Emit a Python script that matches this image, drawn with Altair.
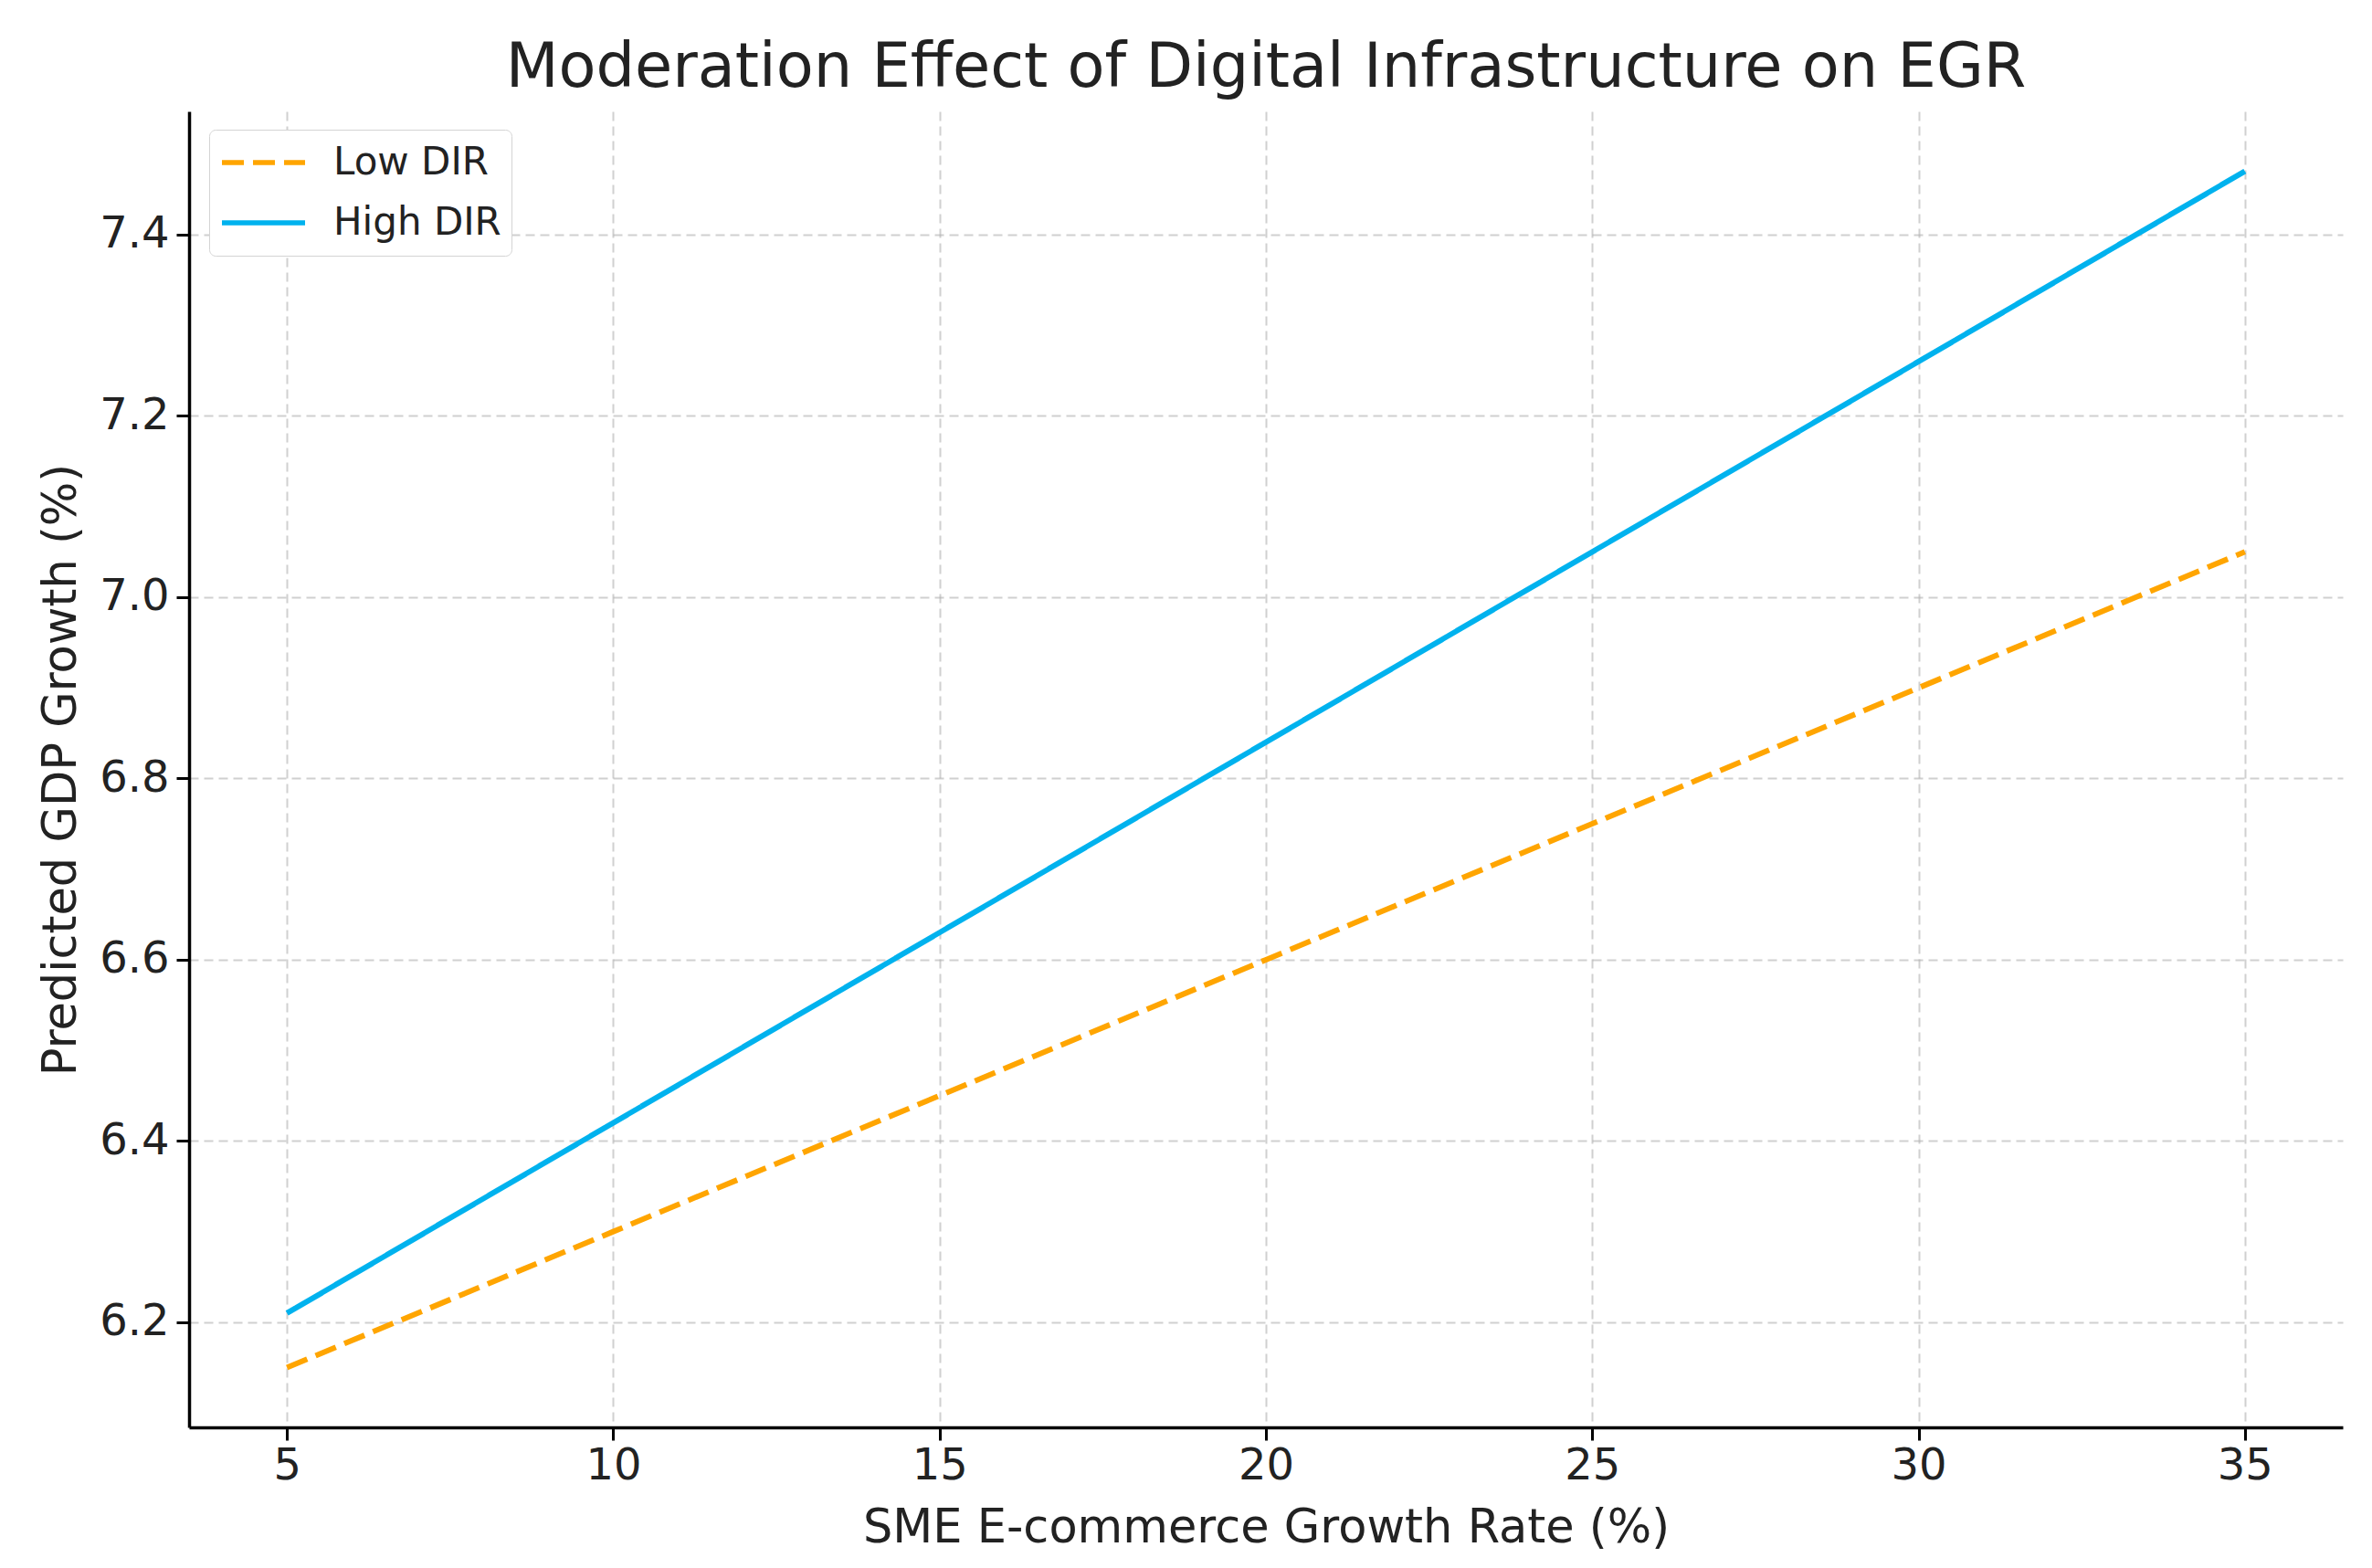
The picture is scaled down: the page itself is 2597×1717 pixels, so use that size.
import altair as alt
import pandas as pd

# ---- data ----
x_rate = [5, 10, 15, 20, 25, 30, 35]
low_dir = [6.15, 6.30, 6.45, 6.60, 6.75, 6.90, 7.05]
high_dir = [6.21, 6.42, 6.63, 6.84, 7.05, 7.26, 7.47]
series_names = ["Low DIR", "High DIR"]
series_colors = ["#FFA500", "#00B2EE"]
x_ticks = [5, 10, 15, 20, 25, 30, 35]
y_ticks = [6.2, 6.4, 6.6, 6.8, 7.0, 7.2, 7.4]

rows = []
for name, vals in zip(series_names, [low_dir, high_dir]):
    for xv, yv in zip(x_rate, vals):
        rows.append({"rate": xv, "gdp": yv, "series": name})
df = pd.DataFrame(rows)

FONT = "DejaVu Sans"
TXT = "#222222"

legend_cfg = dict(
    title=None,
    orient="none",
    legendX=22,
    legendY=20,
    symbolType="stroke",
    symbolSize=8281,
    symbolStrokeWidth=5.5,
    labelFont=FONT,
    labelFontSize=42,
    labelColor=TXT,
    labelLimit=600,
    labelOffset=28,
    clipHeight=50,
    padding=11,
    rowPadding=16,
    fillColor="white",
    strokeColor="#d4d4d4",
    cornerRadius=7,
)

chart = (
    alt.Chart(df)
    .mark_line(strokeWidth=6, strokeCap="butt")
    .encode(
        x=alt.X(
            "rate:Q",
            scale=alt.Scale(domain=[3.5, 36.5], nice=False, zero=False),
            axis=alt.Axis(
                title="SME E-commerce Growth Rate (%)",
                values=x_ticks,
                format="d",
                labelPadding=4,
                titlePadding=19,
            ),
        ),
        y=alt.Y(
            "gdp:Q",
            scale=alt.Scale(domain=[6.084, 7.536], nice=False, zero=False),
            axis=alt.Axis(
                title="Predicted GDP Growth (%)",
                values=y_ticks,
                format=".1f",
                labelPadding=8,
                titlePadding=15,
            ),
        ),
        color=alt.Color(
            "series:N",
            scale=alt.Scale(domain=series_names, range=series_colors),
            legend=alt.Legend(**legend_cfg),
        ),
        strokeDash=alt.StrokeDash(
            "series:N",
            scale=alt.Scale(domain=series_names, range=[[24, 10], [1, 0]]),
            legend=alt.Legend(**legend_cfg),
        ),
    )
    .properties(
        width=2358,
        height=1441,
        title=alt.Title(
            "Moderation Effect of Digital Infrastructure on EGR",
            font=FONT,
            fontSize=67,
            fontWeight="normal",
            color=TXT,
            anchor="middle",
            baseline="alphabetic",
            offset=-40,
        ),
        autosize=alt.AutoSizeParams(type="none"),
        padding={"left": 199, "top": 114, "right": 24, "bottom": 146},
    )
    .configure_view(stroke=None)
    .configure_axis(
        domainColor="black",
        domainWidth=3.5,
        tickColor="black",
        tickWidth=3,
        tickSize=14,
        labelFont=FONT,
        labelFontSize=48,
        labelColor=TXT,
        titleFont=FONT,
        titleFontSize=51,
        titleFontWeight="normal",
        titleColor=TXT,
        grid=True,
        gridColor="#b0b0b0",
        gridOpacity=0.6,
        gridDash=[10, 6],
        gridWidth=2,
    )
)

chart.save("out.html", embed_options={"renderer": "svg", "actions": False})
